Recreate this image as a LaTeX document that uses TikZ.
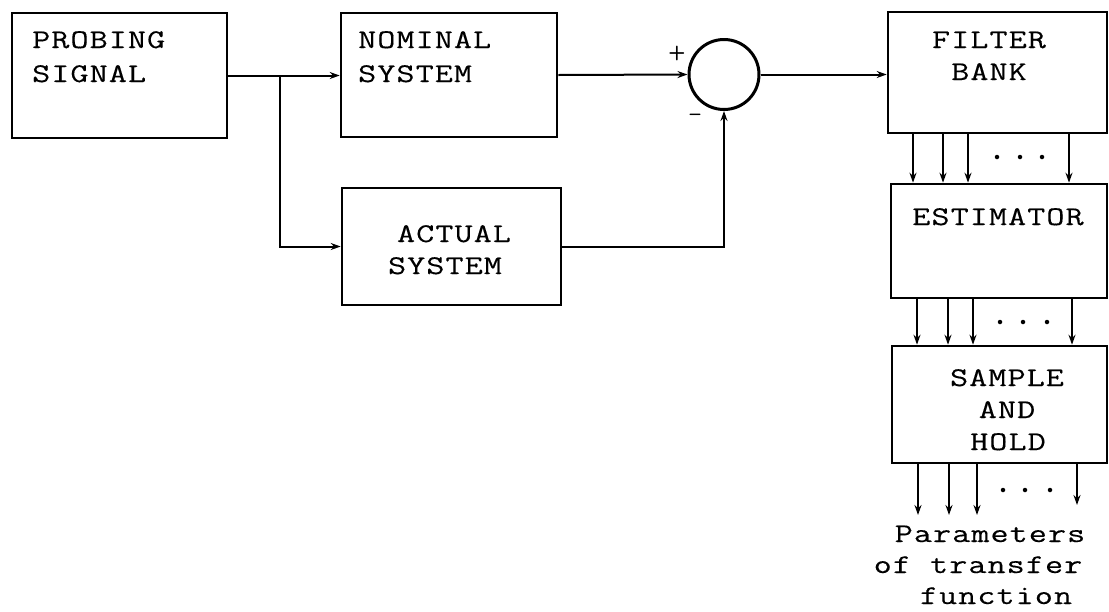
\documentclass[tikz,border=0pt]{standalone}
\usepackage{fontspec}
\newfontfamily\tw{Latin Modern Mono}[FakeStretch=1.3, LetterSpace=4, FakeBold=0.3]
\usetikzlibrary{arrows.meta,calc}
\begin{document}
\begin{tikzpicture}[x=1pt,y=-1pt,
  box/.style={draw, line width=2.6pt, inner sep=0pt},
  lbl/.style={font=\tw\fontsize{27}{32}\selectfont, inner sep=0pt},
  arr/.style={line width=2pt, -{Stealth[length=10pt,width=7pt]}},
  sgn/.style={font=\sffamily\bfseries\fontsize{20}{20}\selectfont, inner sep=0pt},
  dotn/.style={circle, fill, inner sep=0pt, minimum size=4.5pt}]
\useasboundingbox (0,0) rectangle (1109,611);

% blocks
\node[box, minimum width=215pt, minimum height=125pt] (probe) at (119.5,75.5) {};
\node[box, minimum width=216pt, minimum height=124pt] (nominal) at (449,75) {};
\node[box, minimum width=219pt, minimum height=117pt] (actual) at (451.5,246.5) {};
\node[box, circle, line width=3pt, minimum size=70pt] (sum) at (724,74.5) {};
\node[box, minimum width=219pt, minimum height=121pt] (fb) at (997.5,72.5) {};
\node[box, minimum width=216pt, minimum height=114pt] (est) at (999,241) {};
\node[box, minimum width=215pt, minimum height=117pt] (sh) at (999.5,404.5) {};

% labels
\node[lbl, anchor=base west] (t1) at (32,48) {PROBING};
\node[lbl, anchor=base west] (t2) at (32,82) {SIGNAL};
\node[lbl, anchor=base west] (t3) at (358,48) {NOMINAL};
\node[lbl, anchor=base west] (t4) at (358,82) {SYSTEM};
\node[lbl, anchor=base] (t5) at (454,242) {ACTUAL};
\node[lbl, anchor=base] (t6) at (445,274) {SYSTEM};
\node[lbl, anchor=base] (t7) at (989,48) {FILTER};
\node[lbl, anchor=base] (t8) at (989,80) {BANK};
\node[lbl, anchor=base] (t9) at (998,225) {ESTIMATOR};
\node[lbl, anchor=base] (t10) at (1007,386) {SAMPLE};
\node[lbl, anchor=base] (t11) at (1007,418) {AND};
\node[lbl, anchor=base] (t12) at (1008,450) {HOLD};
\node[lbl, anchor=base] (t13) at (990,542) {Parameters};
\node[lbl, anchor=base] (t14) at (978,573) {of transfer};
\node[lbl, anchor=base] (t15) at (996,604) {function};

\node[sgn] (plus) at (677,53) {+};
\node[sgn] (minus) at (695,117) {--};

% connectors
\coordinate (j1) at (280,0 |- probe.east);
\draw[arr] (probe.east) -- (nominal.west |- probe.east);
\draw[arr] (j1) |- (actual.west);
\draw[arr] (nominal.east) -- (sum.west);
\draw[arr] (actual.east) -| (sum.south);
\draw[arr] (sum.east) -- (fb.west |- sum.east);

\foreach \x in {913,943,968,1069}
  \draw[arr] (fb.south -| \x,0) -- (est.north -| \x,0);
\foreach \x in {917,948,973,1072}
  \draw[arr] (est.south -| \x,0) -- (sh.north -| \x,0);

\coordinate (o1) at (918,515);
\coordinate (o2) at (949,515);
\coordinate (o3) at (977,515);
\coordinate (o4) at (1077,505);
\foreach \c in {o1,o2,o3,o4}
  \draw[arr] (sh.south -| \c) -- (\c);

% dots
\foreach \x/\n in {997/a,1020/b,1042/c}
  \node[dotn] (d1\n) at (\x,157) {};
\foreach \x/\n in {1000/a,1023/b,1047/c}
  \node[dotn] (d2\n) at (\x,322) {};
\foreach \x/\n in {1003/a,1025/b,1050/c}
  \node[dotn] (d3\n) at (\x,490) {};
\end{tikzpicture}
\end{document}
